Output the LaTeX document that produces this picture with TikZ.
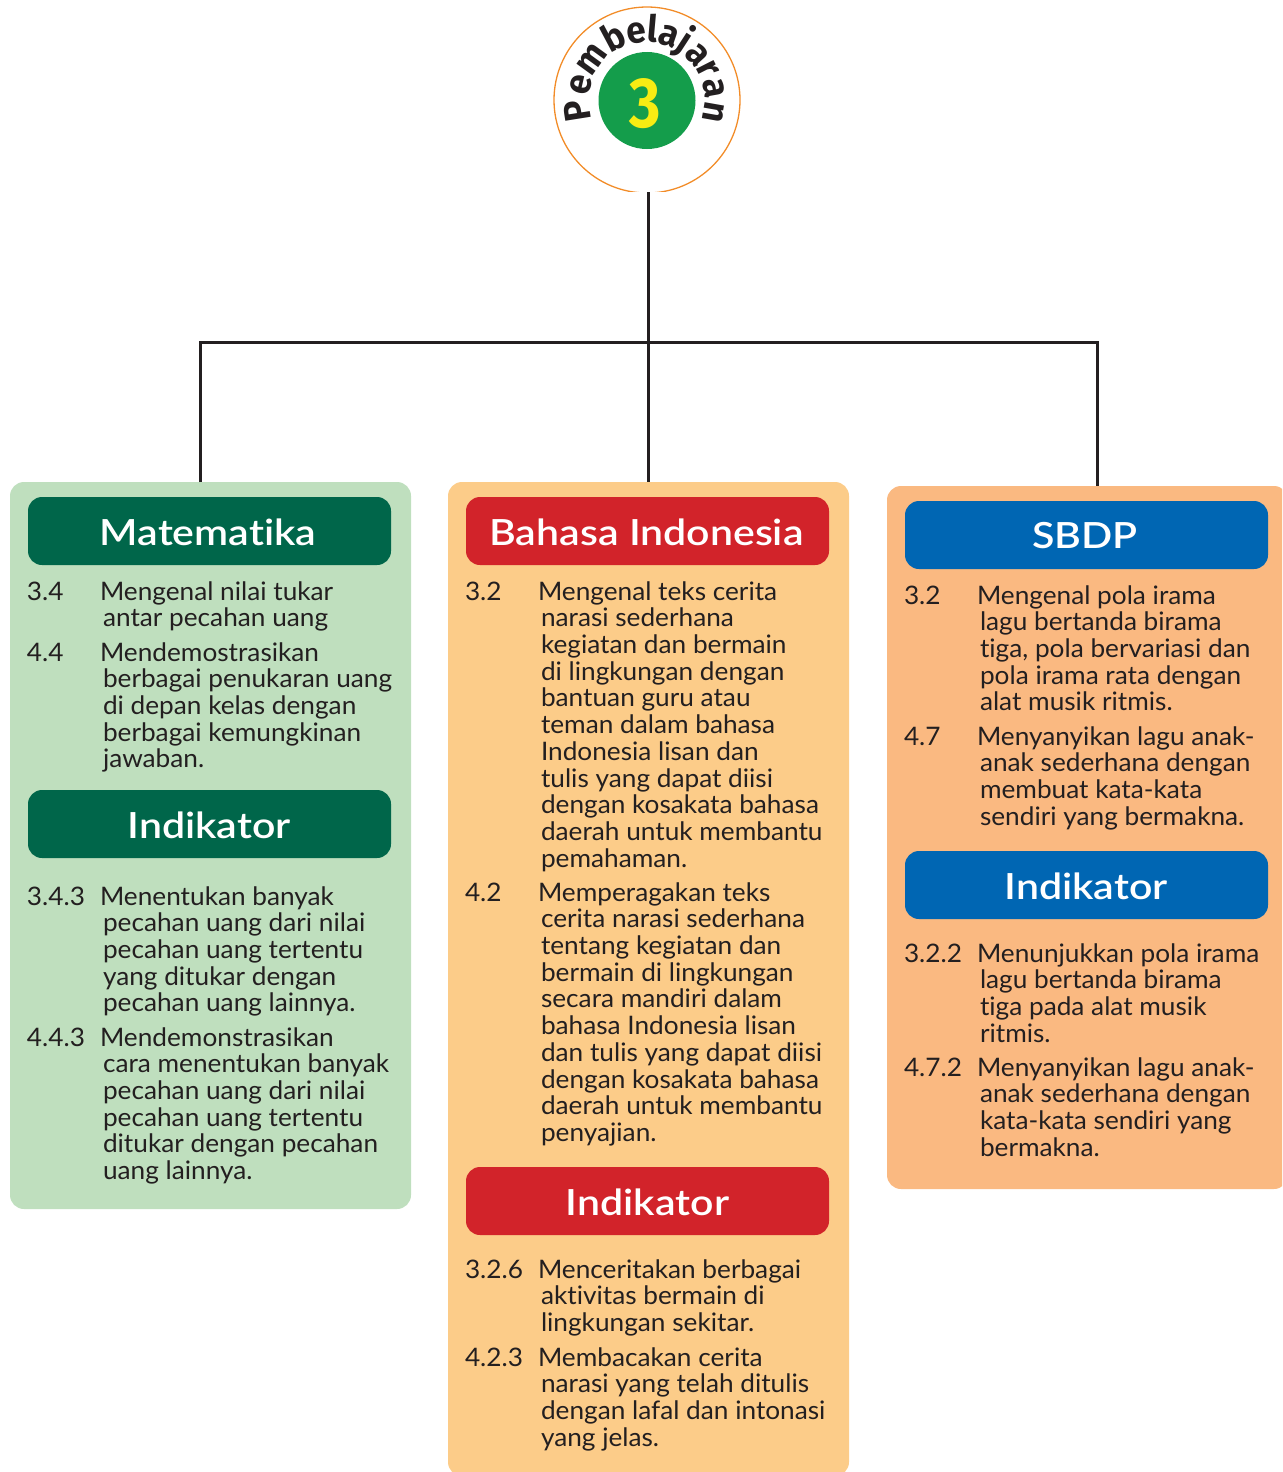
\documentclass[tikz,border=0pt]{standalone}
\usepackage{fontspec}
\setmainfont{Lato}[FakeStretch=1.028,Ligatures=NoCommon]
\newfontfamily\headfont{Lato}[UprightFont=* Semibold,FakeStretch=1.14,Ligatures=NoCommon]
\newfontfamily\ringfont{Fira Sans}[UprightFont=* Bold,FakeStretch=0.95]
\newfontfamily\threefont{Fira Sans}[UprightFont=* Bold,FakeStretch=0.85]
\definecolor{ink}{HTML}{231F20}
\definecolor{gpanel}{HTML}{BFDFBE}
\definecolor{opanel}{HTML}{FCCC89}
\definecolor{ppanel}{HTML}{FAB981}
\definecolor{ghead}{HTML}{00664A}
\definecolor{rhead}{HTML}{D2232A}
\definecolor{bhead}{HTML}{0066B3}
\definecolor{ringc}{HTML}{F28C28}
\definecolor{disc}{HTML}{149D4B}
\definecolor{three}{HTML}{F7EC13}
\tikzset{
  panel/.style={rectangle,rounded corners=14pt,inner sep=0,outer sep=0},
  head/.style={rectangle,rounded corners=14pt,inner sep=0,outer sep=0,minimum width=363pt,minimum height=68pt},
  headlabel/.style={anchor=base,inner sep=0,outer sep=0,text=white,font=\headfont\fontsize{36}{40}\selectfont},
  bodytext/.style={anchor=base west,inner sep=0,outer sep=0,text=ink,font=\fontsize{25.5}{27}\selectfont},
  ringletter/.style={anchor=base,inner sep=0,outer sep=0,text=ink,font=\ringfont\fontsize{37}{40}\selectfont},
  wire/.style={draw=ink,line width=3pt}
}
\newcommand\entry[5]{%
  \node[bodytext] (#1n) at (#2,#3) {#4};
  \foreach \tline [count=\i] in {#5} {
    \pgfmathsetmacro\yy{#3+(\i-1)*26.72}
    \pgfmathsetmacro\xx{#2+(\i==1?73:76)}
    \node[bodytext] (#1l\i) at (\xx,\yy) {\tline};
  }}
\begin{document}
\begin{tikzpicture}[x=1pt,y=-1pt]
\useasboundingbox (0,0) rectangle (1282,1472);
\clip (0,0) rectangle (1282,1472);
% panels
\node[panel,fill=gpanel,minimum width=401pt,minimum height=727pt] (mat) at (210.5,845.5) {};
\node[panel,fill=opanel,minimum width=401pt,minimum height=994pt] (bhs) at (648.5,979) {};
\node[panel,fill=ppanel,minimum width=401pt,minimum height=703pt] (sbd) at (1087.5,837.5) {};
% ring
\begin{scope}
\clip (540,0) rectangle (760,191.6);
\node[circle,draw=ringc,line width=1.3pt,minimum size=186pt,inner sep=0] (ring) at (647,100) {};
\end{scope}
\node[circle,fill=disc,minimum size=97pt,inner sep=0] (dsc) at (647,100.5) {};
\node[inner sep=0,text=three,font=\threefont\fontsize{71}{74}\selectfont] (num) at (645.5,104) {3};
\foreach \c/\a [count=\k] in {P/189,e/167,m/144,b/118,e/99,l/85,a/71,j/57,a/42,r/27,a/10,n/-10}{
  \node[ringletter,rotate=\a-90] (rl\k) at ({647+58*cos(\a)},{100-58*sin(\a)}) {\c};
}
% connectors
\coordinate (top) at (648,192);
\coordinate (hub) at (648,342);
\coordinate (ld) at (200,482);
\coordinate (cd) at (648,482);
\coordinate (rd) at (1097,486);
\draw[wire] (top) -- (cd);
\draw[wire,line join=miter] (ld) |- (hub) -| (rd);
% headers
\node[head,fill=ghead] (h1) at (209.5,531) {};
\node[head,fill=ghead] (h1b) at (209.5,824) {};
\node[head,fill=rhead] (h2) at (647.5,531) {};
\node[head,fill=rhead] (h2b) at (647.5,1201) {};
\node[head,fill=bhead] (h3) at (1086.5,535) {};
\node[head,fill=bhead] (h3b) at (1086.5,885) {};
\node[headlabel] (h1t) at (208,545.5) {Matematika};
\node[headlabel] (h1bt) at (209,838.5) {Indikator};
\node[headlabel] (h2t) at (646.5,545.5) {Bahasa Indonesia};
\node[headlabel] (h2bt) at (647.5,1215.5) {Indikator};
\node[headlabel] (h3t) at (1085,548) {SBDP};
\node[headlabel] (h3bt) at (1086,899.5) {Indikator};
% Matematika
\entry{a}{27}{600}{3.4}{Mengenal nilai tukar,antar pecahan uang}
\entry{b}{27}{661}{4.4}{Mendemostrasikan,berbagai penukaran uang,di depan kelas dengan,berbagai kemungkinan,jawaban.}
\entry{c}{27}{905}{3.4.3}{Menentukan banyak,pecahan uang dari nilai,pecahan uang tertentu,yang ditukar dengan,pecahan uang lainnya.}
\entry{d}{27}{1046}{4.4.3}{Mendemonstrasikan,cara menentukan banyak,pecahan uang dari nilai,pecahan uang tertentu,ditukar dengan pecahan,uang lainnya.}
% Bahasa Indonesia
\entry{e}{465}{600}{3.2}{Mengenal teks cerita,narasi sederhana,kegiatan dan bermain,di lingkungan dengan,bantuan guru atau,teman dalam bahasa,Indonesia lisan dan,tulis yang dapat diisi,dengan kosakata bahasa,daerah untuk membantu,pemahaman.}
\entry{f}{465}{901}{4.2}{Memperagakan teks,cerita narasi sederhana,tentang kegiatan dan,bermain di lingkungan,secara mandiri dalam,bahasa Indonesia lisan,dan tulis yang dapat diisi,dengan kosakata bahasa,daerah untuk membantu,penyajian.}
\entry{g}{465}{1278}{3.2.6}{Menceritakan berbagai,aktivitas bermain di,lingkungan sekitar.}
\entry{h}{465}{1366}{4.2.3}{Membacakan cerita,narasi yang telah ditulis,dengan lafal dan intonasi,yang jelas.}
% SBDP
\entry{i}{904}{604}{3.2}{Mengenal pola irama,lagu bertanda birama,{tiga, pola bervariasi dan},pola irama rata dengan,alat musik ritmis.}
\entry{j}{904}{745}{4.7}{Menyanyikan lagu anak-,anak sederhana dengan,membuat kata-kata,sendiri yang bermakna.}
\entry{k}{904}{962}{3.2.2}{Menunjukkan pola irama,lagu bertanda birama,tiga pada alat musik,ritmis.}
\entry{m}{904}{1076}{4.7.2}{Menyanyikan lagu anak-,anak sederhana dengan,kata-kata sendiri yang,bermakna.}
\end{tikzpicture}
\end{document}
